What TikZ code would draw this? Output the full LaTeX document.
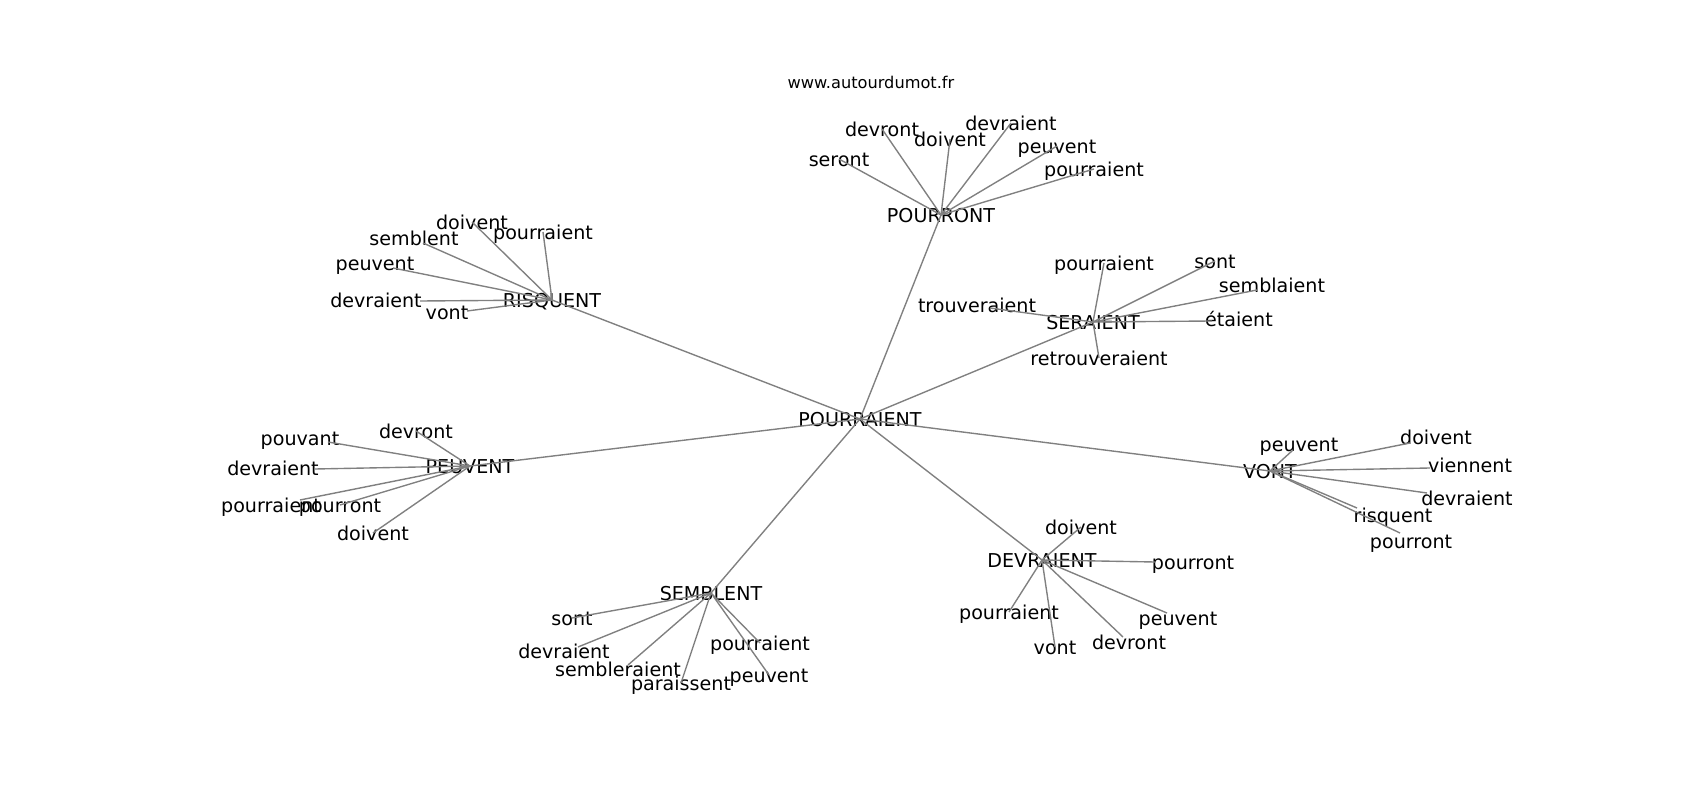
\documentclass[tikz,border=0pt]{standalone}
\usepackage{fontspec}
\setmainfont{DejaVu Sans}
\usetikzlibrary{positioning}
\tikzset{
    word/.style = {inner sep=0pt, text height=11.2pt, text depth=0pt, font=\fontsize{13.8}{16}\selectfont},
    site/.style = {inner sep=0pt, text height=9pt, text depth=0pt, font=\fontsize{11.7}{14}\selectfont},
    edgeg/.style = {line width=1pt, black!50},
}

\begin{document}
\begin{tikzpicture}[x=0.01in, y=-0.01in]
\useasboundingbox (0,0) rectangle (1700,800);
\node[site] (www) at (871,82) {www.autourdumot.fr};
%
\node[word] (pr) at (860,419) {POURRAIENT};
\node[word] (pn) at (941,215) {POURRONT};
\node[word] (sr) at (1093,322) {SERAIENT};
\node[word] (rsq) at (552,300) {RISQUENT};
\node[word] (pv) at (470,466) {PEUVENT};
\node[word] (sb) at (711,593) {SEMBLENT};
\node[word] (dv) at (1042,560) {DEVRAIENT};
\node[word] (vt) at (1270,471) {VONT};
%
\node[word] (pn1) at (839,159) {seront};
\node[word] (pn2) at (882,129) {devront};
\node[word] (pn3) at (950,139) {doivent};
\node[word] (pn4) at (1011,123) {devraient};
\node[word] (pn5) at (1057,146) {peuvent};
\node[word] (pn6) at (1094,169) {pourraient};
%
\node[word] (sr1) at (1104,263) {pourraient};
\node[word] (sr2) at (1215,261) {sont};
\node[word] (sr3) at (1272,285) {semblaient};
\node[word] (sr4) at (1239,319) {étaient};
\node[word] (sr5) at (977,305) {trouveraient};
\node[word] (sr6) at (1099,358) {retrouveraient};
\coordinate (sr3e) at (1257,290);
\coordinate (sr4e) at (1212,321);
\coordinate (sr5e) at (990,308);
%
\node[word] (rsq1) at (472,222) {doivent};
\node[word] (rsq2) at (414,238) {semblent};
\node[word] (rsq3) at (375,263) {peuvent};
\node[word] (rsq4) at (543,232) {pourraient};
\node[word] (rsq5) at (376,300) {devraient};
\node[word] (rsq6) at (447,312) {vont};
\coordinate (rsq2e) at (423,243);
\coordinate (rsq3e) at (393,268);
\coordinate (rsq5e) at (420,301);
\coordinate (rsq6e) at (467,311);
%
\node[word] (pv1) at (416,431) {devront};
\node[word] (pv2) at (300,438) {pouvant};
\node[word] (pv3) at (273,468) {devraient};
\node[word] (pv4) at (271,505) {pourraient};
\node[word] (pv5) at (340,505) {pourront};
\node[word] (pv6) at (373,533) {doivent};
\coordinate (pv2e) at (328,442);
\coordinate (pv3e) at (315,469);
\coordinate (pv4e) at (300,500);
%
\node[word] (sb1) at (572,618) {sont};
\node[word] (sb2) at (564,651) {devraient};
\node[word] (sb3) at (618,669) {sembleraient};
\node[word] (sb4) at (681,683) {paraissent};
\node[word] (sb5) at (760,643) {pourraient};
\node[word] (sb6) at (769,675) {peuvent};
\coordinate (sb2e) at (578,647);
\coordinate (sb3e) at (628,665);
%
\node[word] (dv1) at (1081,527) {doivent};
\node[word] (dv2) at (1193,562) {pourront};
\node[word] (dv3) at (1009,612) {pourraient};
\node[word] (dv4) at (1055,647) {vont};
\node[word] (dv5) at (1129,642) {devront};
\node[word] (dv6) at (1178,618) {peuvent};
\coordinate (dv2e) at (1155,562);
\coordinate (dv5e) at (1123,637);
\coordinate (dv6e) at (1167,613);
%
\node[word] (vt1) at (1299,444) {peuvent};
\node[word] (vt2) at (1436,437) {doivent};
\node[word] (vt3) at (1470,465) {viennent};
\node[word] (vt4) at (1467,498) {devraient};
\node[word] (vt5) at (1393,515) {risquent};
\node[word] (vt6) at (1411,541) {pourront};
\coordinate (vt1e) at (1293,450);
\coordinate (vt2e) at (1410,443);
\coordinate (vt3e) at (1430,468);
\coordinate (vt4e) at (1427,493);
\coordinate (vt5e) at (1357,508);
\coordinate (vt6e) at (1400,533);
%
\draw[edgeg] (pr.center) -- (pn.center);
\draw[edgeg] (pr.center) -- (sr.center);
\draw[edgeg] (pr.center) -- (rsq.center);
\draw[edgeg] (pr.center) -- (pv.center);
\draw[edgeg] (pr.center) -- (sb.center);
\draw[edgeg] (pr.center) -- (dv.center);
\draw[edgeg] (pr.center) -- (vt.center);
%
\draw[edgeg] (pn.center) -- (pn1.center);
\draw[edgeg] (pn.center) -- (pn2.center);
\draw[edgeg] (pn.center) -- (pn3.center);
\draw[edgeg] (pn.center) -- (pn4.center);
\draw[edgeg] (pn.center) -- (pn5.center);
\draw[edgeg] (pn.center) -- (pn6.center);
%
\draw[edgeg] (sr.center) -- (sr1.center);
\draw[edgeg] (sr.center) -- (sr2.center);
\draw[edgeg] (sr.center) -- (sr3e);
\draw[edgeg] (sr.center) -- (sr4e);
\draw[edgeg] (sr.center) -- (sr5e);
\draw[edgeg] (sr.center) -- (sr6.center);
%
\draw[edgeg] (rsq.center) -- (rsq1.center);
\draw[edgeg] (rsq.center) -- (rsq2e);
\draw[edgeg] (rsq.center) -- (rsq3e);
\draw[edgeg] (rsq.center) -- (rsq4.center);
\draw[edgeg] (rsq.center) -- (rsq5e);
\draw[edgeg] (rsq.center) -- (rsq6e);
%
\draw[edgeg] (pv.center) -- (pv1.center);
\draw[edgeg] (pv.center) -- (pv2e);
\draw[edgeg] (pv.center) -- (pv3e);
\draw[edgeg] (pv.center) -- (pv4e);
\draw[edgeg] (pv.center) -- (pv5.center);
\draw[edgeg] (pv.center) -- (pv6.center);
%
\draw[edgeg] (sb.center) -- (sb1.center);
\draw[edgeg] (sb.center) -- (sb2e);
\draw[edgeg] (sb.center) -- (sb3e);
\draw[edgeg] (sb.center) -- (sb4.center);
\draw[edgeg] (sb.center) -- (sb5.center);
\draw[edgeg] (sb.center) -- (sb6.center);
%
\draw[edgeg] (dv.center) -- (dv1.center);
\draw[edgeg] (dv.center) -- (dv2e);
\draw[edgeg] (dv.center) -- (dv3.center);
\draw[edgeg] (dv.center) -- (dv4.center);
\draw[edgeg] (dv.center) -- (dv5e);
\draw[edgeg] (dv.center) -- (dv6e);
%
\draw[edgeg] (vt.center) -- (vt1e);
\draw[edgeg] (vt.center) -- (vt2e);
\draw[edgeg] (vt.center) -- (vt3e);
\draw[edgeg] (vt.center) -- (vt4e);
\draw[edgeg] (vt.center) -- (vt5e);
\draw[edgeg] (vt.center) -- (vt6e);
\end{tikzpicture}
\end{document}
